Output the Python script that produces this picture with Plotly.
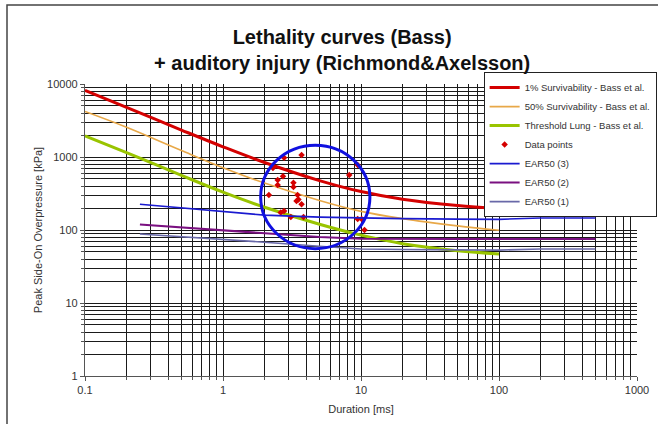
import plotly.graph_objects as go

# ---- data ----
bass_x = [0.1, 0.2, 0.5, 1, 2, 5, 10, 20, 50, 100]
surv1_y = [8200, 4780, 2340, 1380, 840, 475, 336, 264, 216, 196]
surv50_y = [4200, 2550, 1226, 715, 440, 254, 180, 143, 114, 99]
lung_y = [1950, 1150, 560, 330, 205, 120, 85, 65, 52, 47]

ear_x = [0.25, 0.5, 1, 2, 5, 10, 20, 50, 100, 200, 500]
ear3_y = [225, 200, 180, 160, 150, 145, 143, 141, 140, 146, 146]
ear2_y = [119, 108, 98, 89, 80, 76, 75, 75, 75, 75, 75]
ear1_y = [88, 81, 75, 68, 60, 55, 54, 53, 53, 55, 55]

pts_x = [2.77, 3.71, 2.30, 2.72, 2.49, 2.49, 3.24, 3.24, 2.15, 3.47, 3.52,
         3.41, 3.71, 2.77, 2.62, 3.10, 3.83, 9.46, 8.22, 9.46, 10.1, 10.6]
pts_y = [977, 1064, 706, 543, 484, 413, 445, 388, 301, 301, 262,
         250, 225, 182, 173, 151, 151, 776, 566, 142, 142, 100]

circle_x = [1.875, 11.6]
circle_y = [55.5, 1450]

x_tickvals = [0.1, 1, 10, 100, 1000]
x_ticktext = ["0.1", "1", "10", "100", "1000"]
y_tickvals = [1, 10, 100, 1000, 10000]
y_ticktext = ["1", "10", "100", "1000", "10000"]

FONT = "Liberation Sans, Arial, sans-serif"

fig = go.Figure()
fig.add_trace(go.Scatter(x=bass_x, y=surv1_y, mode="lines", name="1% Survivability - Bass et al.",
                         line=dict(color="#d40000", width=3, shape="spline")))
fig.add_trace(go.Scatter(x=bass_x, y=surv50_y, mode="lines", name="50% Survivability - Bass et al.",
                         line=dict(color="#e8a848", width=1.6, shape="spline")))
fig.add_trace(go.Scatter(x=bass_x, y=lung_y, mode="lines", name="Threshold Lung - Bass et al.",
                         line=dict(color="#99c400", width=3, shape="spline")))
fig.add_trace(go.Scatter(x=pts_x, y=pts_y, mode="markers", name="Data points",
                         marker=dict(color="#d40000", symbol="diamond", size=5)))
fig.add_trace(go.Scatter(x=ear_x, y=ear3_y, mode="lines", name="EAR50 (3)",
                         line=dict(color="#1a1ad0", width=1.6)))
fig.add_trace(go.Scatter(x=ear_x, y=ear2_y, mode="lines", name="EAR50 (2)",
                         line=dict(color="#7a1080", width=2)))
fig.add_trace(go.Scatter(x=ear_x, y=ear1_y, mode="lines", name="EAR50 (1)",
                         line=dict(color="#6868a8", width=1.6)))

fig.add_shape(type="circle", xref="x", yref="y",
              x0=circle_x[0], x1=circle_x[1], y0=circle_y[0], y1=circle_y[1],
              line=dict(color="#1010e0", width=3))

# outer frame of the chart
fig.add_shape(type="rect", xref="paper", yref="paper",
              x0=-0.1413, x1=1.05, y0=-0.18, y1=1.2705,
              line=dict(color="#444444", width=1.5), layer="below")

axis_common = dict(
    type="log", showline=True, linecolor="#555555", linewidth=1.2,
    showgrid=True, gridcolor="#1a1a1a", gridwidth=1.2,
    ticks="outside", ticklen=4, tickcolor="#555555",
    tickfont=dict(family=FONT, size=11, color="#333333"),
    zeroline=False, automargin=False,
    minor=dict(dtick="D1", showgrid=True, gridcolor="#1a1a1a", gridwidth=1.2,
               ticks="outside", ticklen=3, tickcolor="#555555"),
)

fig.update_layout(
    width=658, height=424,
    margin=dict(l=85, r=21, t=84, b=48, autoexpand=False),
    paper_bgcolor="white", plot_bgcolor="white",
    font=dict(family=FONT, color="#222222"),
    title=dict(text="Lethality curves (Bass)<br>+ auditory injury (Richmond&Axelsson)",
               x=0.52, xanchor="center", y=0.896, yanchor="top",
               font=dict(family=FONT, size=20, color="#111111", weight="bold")),
    xaxis=dict(axis_common, range=[-1, 3], tickvals=x_tickvals, ticktext=x_ticktext,
               title=dict(text="Duration [ms]", font=dict(family=FONT, size=11, color="#333333"), standoff=10)),
    yaxis=dict(axis_common, range=[0, 4], tickvals=y_tickvals, ticktext=y_ticktext,
               title=dict(text="Peak Side-On Overpressure [kPa]", font=dict(family=FONT, size=11, color="#333333"), standoff=2)),
    legend=dict(x=0.735, y=0.83, xanchor="left", yanchor="top",
                xref="container", yref="container",
                bgcolor="white", bordercolor="#222222", borderwidth=1,
                font=dict(family=FONT, size=9.5, color="#333333"),
                tracegroupgap=0, itemwidth=30),
    showlegend=True,
)

fig.write_html("out.html", config={"displayModeBar": False},
               post_script="document.body.style.margin='0';")
